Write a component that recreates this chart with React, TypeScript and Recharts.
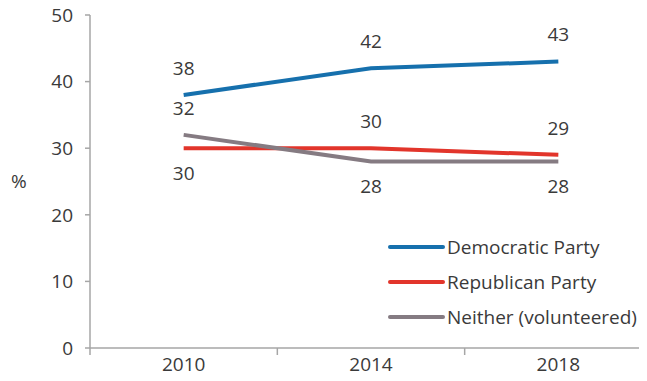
import { Label, LabelList, Legend, Line, LineChart, XAxis, YAxis } from "recharts";

const YEARS = [2010, 2014, 2018];
const DEMOCRATIC = [38, 42, 43];
const REPUBLICAN = [30, 30, 29];
const NEITHER = [32, 28, 28];
const Y_TICKS = [0, 10, 20, 30, 40, 50];

const FONT = "'Open Sans', sans-serif";
const SIZE = 19;
const TEXT = "#3a3a3a";
const AXIS = "#a6a6a6";

const SERIES = [
  { key: "dem", name: "Democratic Party", color: "#1670ad", values: DEMOCRATIC, place: ["up", "up", "up"] },
  { key: "rep", name: "Republican Party", color: "#e2352b", values: REPUBLICAN, place: ["down", "up", "up"] },
  { key: "nei", name: "Neither (volunteered)", color: "#857b82", values: NEITHER, place: ["up", "down", "down"] },
];

const data = YEARS.map((year, i) => ({
  year,
  dem: DEMOCRATIC[i],
  rep: REPUBLICAN[i],
  nei: NEITHER[i],
}));

// band edges get a tick mark, band centres get the year label
const X_TICKS = [2008, 2010, 2012, 2014, 2016, 2018, 2020];

function XTick({ x, y, payload }: any) {
  const v = payload.value as number;
  if (YEARS.includes(v)) {
    return (
      <text x={x} y={y + 15} textAnchor="middle" fill={TEXT} fontSize={SIZE} fontFamily={FONT}>
        {v}
      </text>
    );
  }
  return <line x1={x} x2={x} y1={y - 8} y2={y - 1} stroke={AXIS} strokeWidth={1.5} />;
}

function makeLabel(place: string[]) {
  return (props: any) => {
    const { x, y, value, index } = props;
    const down = place[index] === "down";
    return (
      <text
        x={x}
        y={down ? y + 25 : y - 27}
        dy="0.35em"
        textAnchor="middle"
        fill={TEXT}
        fontSize={SIZE}
        fontFamily={FONT}
      >
        {value}
      </text>
    );
  };
}

function LegendBox() {
  return (
    <div style={{ fontFamily: FONT, fontSize: SIZE, color: TEXT }}>
      {SERIES.map((s) => (
        <div key={s.key} style={{ display: "flex", alignItems: "center", height: 35 }}>
          <svg width={58} height={8}>
            <line x1={2} x2={55} y1={4} y2={4} stroke={s.color} strokeWidth={4} strokeLinecap="round" />
          </svg>
          <span style={{ marginLeft: 1, whiteSpace: "nowrap" }}>{s.name}</span>
        </div>
      ))}
    </div>
  );
}

export default function App() {
  return (
    <div style={{ width: 647, height: 381, overflow: "hidden", margin: "-8px 0 0 -8px" }}>
      <LineChart width={668} height={381} data={data} margin={{ top: 15, right: 16, left: 0, bottom: 3 }}>
        <XAxis
          dataKey="year"
          type="number"
          domain={[2008, 2020]}
          ticks={X_TICKS}
          interval={0}
          tickLine={false}
          tick={<XTick />}
          height={30}
          stroke={AXIS}
          strokeWidth={1.5}
        />
        <YAxis
          domain={[0, 50]}
          ticks={Y_TICKS}
          width={90}
          tickSize={5}
          tickMargin={12}
          stroke={AXIS}
          strokeWidth={1.5}
          tick={{ fill: TEXT, fontSize: SIZE, fontFamily: FONT }}
        >
          <Label value="%" position="insideLeft" offset={11} fill={TEXT} fontSize={SIZE} fontFamily={FONT} />
        </YAxis>
        {SERIES.map((s) => (
          <Line
            key={s.key}
            dataKey={s.key}
            name={s.name}
            stroke={s.color}
            strokeWidth={4}
            dot={false}
            activeDot={false}
            isAnimationActive={false}
          >
            <LabelList dataKey={s.key} content={makeLabel(s.place)} />
          </Line>
        ))}
        <Legend
          layout="horizontal"
          verticalAlign="middle"
          content={<LegendBox />}
          wrapperStyle={{ left: 388, top: 229, width: 275, bottom: "auto" }}
        />
      </LineChart>
    </div>
  );
}
